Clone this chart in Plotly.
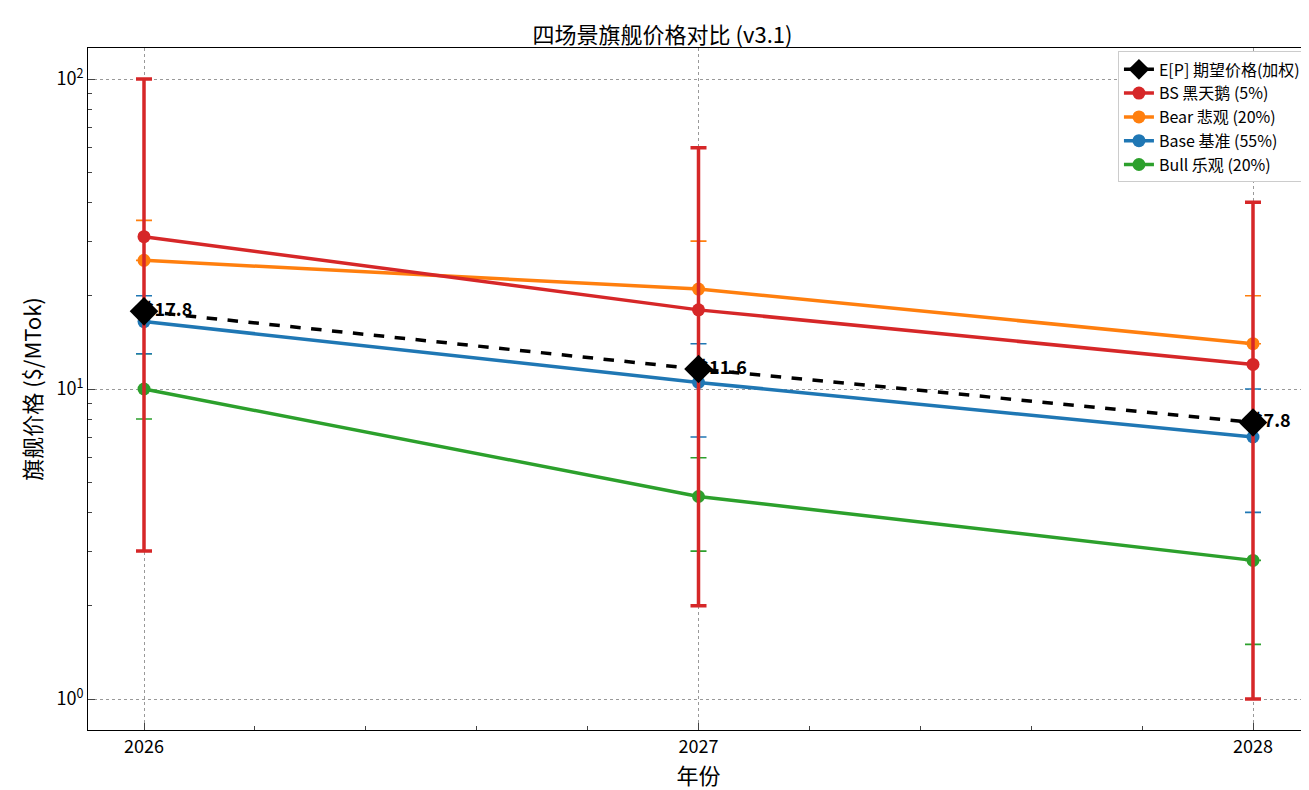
import plotly.graph_objects as go

years = [2026, 2027, 2028]
ep = [17.8, 11.6, 7.8]
ep_labels = ["<b>&#36;17.8</b>", "<b>&#36;11.6</b>", "<b>&#36;7.8</b>"]
series_names = ["Bull 乐观 (20%)", "Base 基准 (55%)", "Bear 悲观 (20%)", "BS 黑天鹅 (5%)"]
colors = ["#2ca02c", "#1f77b4", "#ff7f0e", "#d62728"]
mid = [[10, 4.5, 2.8], [16.5, 10.5, 7.0], [26, 21, 14], [31, 18, 12]]
low = [[8, 3, 1.5], [13, 7, 4], [26, 21, 14], [3, 2, 1]]
high = [[13, 6, 2.8], [20, 14, 10], [35, 30, 20], [100, 60, 40]]

fig = go.Figure()
for n, c, m, lo, hi in zip(series_names, colors, mid, low, high):
    fig.add_trace(go.Scatter(x=years, y=m, mode="lines+markers", name=n,
        line=dict(color=c, width=3.5), marker=dict(size=13, color=c),
        error_y=dict(type="data", symmetric=False,
                     array=[h - v for h, v in zip(hi, m)],
                     arrayminus=[v - l for v, l in zip(m, lo)],
                     color=c, thickness=3.5 if c == "#d62728" else 1.6, width=8)))
fig.add_trace(go.Scatter(x=years, y=ep, mode="lines+markers", name="E[P] 期望价格(加权)",
    line=dict(color="black", width=3.5, dash="dash"),
    marker=dict(symbol="diamond", size=22, color="black")))
fig.add_trace(go.Scatter(x=years, y=ep, mode="text", text=ep_labels, textposition="middle right",
    textfont=dict(size=18, color="black", family="Noto Sans CJK SC"), showlegend=False, hoverinfo="skip"))

fig.update_layout(
    width=1309, height=790, paper_bgcolor="white", plot_bgcolor="white",
    margin=dict(l=80, r=8, t=40, b=68),
    font=dict(family="Noto Sans CJK SC", size=18, color="black"),
    title=dict(text="四场景旗舰价格对比 (v3.1)", x=0.5, xanchor="center", y=0.975, font=dict(size=22)),
    legend=dict(x=0.9975, y=0.995, xanchor="right", yanchor="top", bgcolor="white",
                bordercolor="#cccccc", borderwidth=1, font=dict(size=16), traceorder="reversed"),
    xaxis=dict(title=dict(text="年份", standoff=6), range=[2025.899, 2028.101], tickvals=years,
               automargin=False, ticks="inside", ticklen=7, showline=True, mirror=True, linecolor="black",
               showgrid=True, gridcolor="#999999", griddash="3px,3px", gridwidth=0.7, zeroline=False,
               minor=dict(ticks="inside", ticklen=4, dtick=0.2, showgrid=False)),
    yaxis=dict(title=dict(text="旗舰价格 ($/MTok)", standoff=8), type="log", range=[-0.1, 2.1],
               automargin=False,
               tickvals=[1, 10, 100], ticktext=["10<sup>0</sup>", "10<sup>1</sup>", "10<sup>2</sup>"],
               ticks="inside", ticklen=7, showline=True, mirror=True, linecolor="black",
               showgrid=True, gridcolor="#999999", griddash="3px,3px", gridwidth=0.7, zeroline=False,
               minor=dict(ticks="inside", ticklen=4, tickvals=[2,3,4,5,6,7,8,9,20,30,40,50,60,70,80,90], showgrid=False)),
)
fig.write_html("out.html")
